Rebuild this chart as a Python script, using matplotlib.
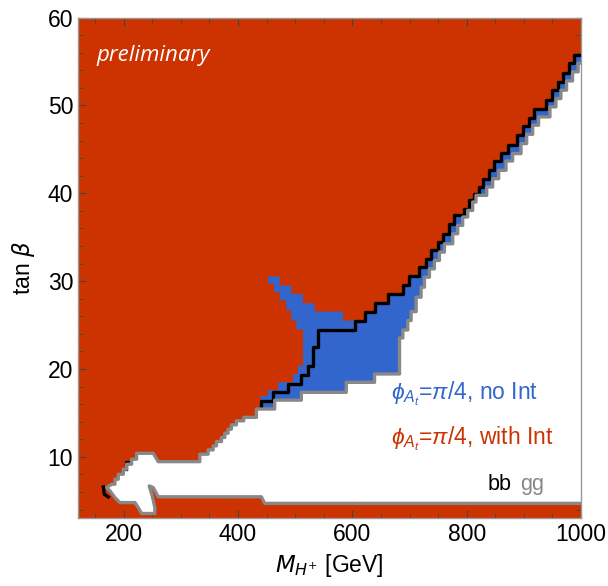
import matplotlib.pyplot as plt
import numpy as np
from matplotlib.patches import Polygon

# Couleurs
rouge = '#cc3300'
bleu = '#3366cc'
gris = '#888888'

# Contour gg (gris) : bord de la zone blanche, du bas a droite jusqu'en haut a droite
gg = np.array([
    (1000, 4.70), (446.6, 4.70), (440.8, 5.45), (260.3, 5.45), (251.6, 6.50), (244.6, 6.69), (249.8, 5.55),
    (254.5, 4.22), (254.5, 3.55), (231.2, 3.55), (225.4, 4.22), (219.6, 4.79), (193.4, 4.79), (184.6, 5.36),
    (175.9, 6.12), (170.1, 6.50), (178.8, 6.88), (184.6, 6.88), (184.6, 7.45), (190.4, 7.45), (190.4, 8.02),
    (199.2, 8.02), (199.2, 8.59), (205.0, 8.59), (205.0, 9.16), (213.7, 9.16), (213.7, 9.73), (222.5, 9.73),
    (222.5, 10.40), (251.6, 10.40), (260.3, 9.45), (333.1, 9.45), (333.1, 10.30), (347.6, 10.30), (347.6, 10.79),
    (356.4, 10.79), (356.4, 11.25), (362.2, 11.25), (362.2, 11.74), (371.0, 11.74), (371.0, 12.20), (376.8, 12.20),
    (376.8, 12.69), (382.6, 12.69), (382.6, 13.15), (388.4, 13.15), (388.4, 13.64), (397.1, 13.64), (397.1, 14.10),
    (410, 14.10), (410, 14.49), (432.1, 14.49), (432.1, 15.44), (464.1, 15.44), (464.1, 16.45), (510.7, 16.45),
    (510.7, 17.34), (589.3, 17.34), (589.3, 18.48), (638.8, 18.48), (638.8, 19.43), (682.5, 19.43), (682.5, 23.53),
    (688.3, 23.53), (688.3, 24.44), (697, 24.44), (697, 25.51), (702.8, 25.51), (702.8, 26.53), (711.6, 26.53),
    (711.6, 28.17), (720.2, 28.17), (720.2, 29.31), (726.1, 29.31), (726.1, 30.45), (734.8, 30.45), (734.8, 31.40),
    (743.5, 31.40), (743.5, 32.35), (752.3, 32.35), (752.3, 33.30), (761, 33.30), (761, 34.25), (775.6, 34.25),
    (775.6, 35.39), (784.3, 35.39), (784.3, 36.34), (793, 36.34), (793, 37.29), (801.8, 37.29), (801.8, 38.05),
    (810.5, 38.05), (810.5, 39.00), (816.3, 39.00), (816.3, 39.76), (835, 39.76), (835, 40.71), (845.5, 40.71),
    (845.5, 41.66), (856, 41.66), (856, 42.61), (868.8, 42.61), (868.8, 43.67), (880.4, 43.67), (880.4, 44.51),
    (895, 44.51), (895, 45.65), (904.9, 45.65), (904.9, 46.71), (915.4, 46.71), (915.4, 47.74), (925.8, 47.74),
    (925.8, 48.69), (945.6, 48.69), (945.6, 49.83), (956.1, 49.83), (956.1, 50.78), (964.8, 50.78), (964.8, 51.73),
    (974.7, 51.73), (974.7, 52.79), (985.2, 52.79), (985.2, 53.82), (995, 53.82), (995, 54.80), (1000, 54.80)])

# Contour bb (noir)
bb = np.array([
    (439.7, 15.63), (439.7, 16.39), (461.2, 16.39), (461.2, 17.34), (487.4, 17.34), (487.4, 18.29), (510.7, 18.29),
    (510.7, 19.35), (522.4, 19.35), (522.4, 20.38), (531.1, 20.38), (531.1, 22.47), (539.8, 22.47), (539.8, 24.48),
    (603.9, 24.48), (603.9, 25.51), (621.3, 25.51), (621.3, 26.46), (638.8, 26.46), (638.8, 27.48), (662.1, 27.48),
    (662.1, 28.55), (688.3, 28.55), (688.3, 29.57), (699.9, 29.57), (699.9, 30.56), (717.4, 30.56), (717.4, 31.55),
    (729.0, 31.55), (729.0, 32.54), (737.7, 32.54), (737.7, 33.49), (749.4, 33.49), (749.4, 34.44), (758.1, 34.44),
    (758.1, 35.39), (769.7, 35.39), (769.7, 36.53), (778.5, 36.53), (778.5, 37.48), (795.9, 37.48), (795.9, 38.24),
    (804.7, 38.24), (804.7, 39.19), (813.4, 39.19), (813.4, 39.95), (822.1, 39.95), (822.1, 40.71), (828.0, 40.71),
    (828.0, 41.58), (838.5, 41.58), (838.5, 42.61), (848.4, 42.61), (848.4, 43.67), (860.0, 43.67), (860.0, 44.58),
    (871.7, 44.58), (871.7, 45.46), (888.0, 45.46), (888.0, 46.60), (897.9, 46.60), (897.9, 47.62), (908.4, 47.62),
    (908.4, 48.61), (918.3, 48.61), (918.3, 49.64), (938.6, 49.64), (938.6, 50.59), (949.1, 50.59), (949.1, 51.73),
    (959.0, 51.73), (959.0, 52.68), (967.8, 52.68), (967.8, 53.70), (978.2, 53.70), (978.2, 54.77), (988.1, 54.77),
    (988.1, 55.72), (1000, 55.72)])

# petits morceaux de bb a gauche
bb2 = np.array([(164.3, 6.57), (166.0, 5.74), (173.0, 5.43)])
bb3 = np.array([(210.8, 9.46), (203.8, 9.46), (203.8, 8.62)])

# Zone bleue (sans interference) : bord gauche + bras, jusqu'au coin ou commence la suite de bb
bleu_haut = np.array([
    (439.7, 15.63), (439.7, 16.95), (452.0, 16.95), (452.0, 17.60), (470.0, 17.60), (470.0, 18.48), (496.2, 18.48),
    (496.2, 19.43), (504.9, 19.43), (504.9, 20.38), (513.6, 20.38), (513.6, 24.48), (502.0, 24.48), (502.0, 25.51),
    (493.2, 25.51), (493.2, 26.65), (484.5, 26.65), (484.5, 27.79), (472.9, 27.79), (472.9, 28.74), (463.0, 28.74),
    (463.0, 29.69), (452.5, 29.69), (452.5, 30.53), (472.9, 30.53), (472.9, 29.50), (493.2, 29.50), (493.2, 28.55),
    (513.6, 28.55), (513.6, 27.48), (534.0, 27.48), (534.0, 26.53), (583.5, 26.53), (583.5, 25.51)])
# retour (cache ensuite par la zone blanche)
bleu_bas = np.array([(1000, 45), (700, 18), (440, 14)])

fig = plt.figure(figsize=(6.08, 5.86), dpi=100)
ax = fig.add_axes([0.1283, 0.1155, 0.8273, 0.8546])
ax.set_facecolor(rouge)

i0 = int(np.where((bb[:, 0] == 603.9) & (bb[:, 1] == 25.51))[0][0])
contour_bleu = np.vstack([bleu_haut, bb[i0:], bleu_bas])
ax.add_patch(Polygon(contour_bleu, closed=True, facecolor=bleu, edgecolor='none', zorder=1))
ax.add_patch(Polygon(gg, closed=True, facecolor='white', edgecolor='none', zorder=2))

ax.plot(bb[:, 0], bb[:, 1], color='black', lw=2.4, zorder=3)
ax.plot(bb2[:, 0], bb2[:, 1], color='black', lw=2.4, zorder=3)
ax.plot(bb3[:, 0], bb3[:, 1], color='black', lw=2.4, zorder=3)
ax.plot(gg[:, 0], gg[:, 1], color=gris, lw=2.4, zorder=4)

ax.set_xlim(120, 1000)
ax.set_ylim(3, 60)
ax.set_xticks([200, 400, 600, 800, 1000])
ax.set_yticks([10, 20, 30, 40, 50, 60])
ax.set_xticks(np.arange(150, 1001, 50), minor=True)
ax.set_yticks(np.arange(4, 60, 2), minor=True)
ax.tick_params(which='both', direction='in', top=True, right=True, color='#444444', labelsize=16.5)
ax.tick_params(which='major', length=6, width=0.8)
ax.tick_params(which='minor', length=3.5, width=0.6)
for s in ax.spines.values():
    s.set_color('#999999')
    s.set_linewidth(1.0)

plt.rcParams['mathtext.fontset'] = 'custom'
plt.rcParams['mathtext.rm'] = 'Liberation Sans'
plt.rcParams['mathtext.it'] = 'Liberation Sans:italic'
for lab in ax.get_xticklabels() + ax.get_yticklabels():
    lab.set_family('Liberation Sans')

ax.set_xlabel(r'$M_{H^{+}}$ [GeV]', fontsize=16.5, family='Liberation Sans', labelpad=4)
ax.set_ylabel(r'tan $\beta$', fontsize=16.5, family='Liberation Sans', labelpad=8)

ax.text(153, 55.7, 'preliminary', color='white', fontsize=16, style='italic', family='Open Sans', va='center', zorder=5)
ax.text(668, 17.2, r'$\phi_{A_t}$=$\pi$/4, no Int', color=bleu, fontsize=16.5, family='Liberation Sans', va='center', zorder=5)
ax.text(668, 12.05, r'$\phi_{A_t}$=$\pi$/4, with Int', color=rouge, fontsize=16.5, family='Liberation Sans', va='center', zorder=5)
ax.text(836, 6.9, 'bb', color='black', fontsize=15.5, family='Liberation Sans', va='center', zorder=5)
ax.text(893, 6.9, 'gg', color=gris, fontsize=15.5, family='Liberation Sans', va='center', zorder=5)

plt.savefig('out.png', dpi=100)
